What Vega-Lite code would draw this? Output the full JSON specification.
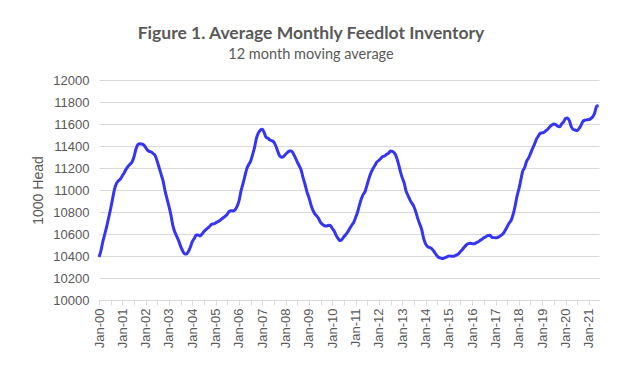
{
  "$schema": "https://vega.github.io/schema/vega-lite/v6.json",
  "width": 500,
  "height": 220,
  "autosize": {"type": "none"},
  "padding": {"left": 99, "top": 80, "right": 32, "bottom": 73},
  "background": "white",
  "title": {
    "text": "Figure 1. Average Monthly Feedlot Inventory",
    "subtitle": "12 month moving average",
    "anchor": "middle",
    "frame": "group",
    "dx": -38,
    "offset": 13,
    "font": "Lato",
    "fontSize": 17.5,
    "fontWeight": "bold",
    "color": "#595959",
    "subtitleFont": "Lato",
    "subtitleFontSize": 14.5,
    "subtitleColor": "#595959",
    "subtitlePadding": 5
  },
  "config": {
    "view": {"stroke": null},
    "axis": {"labelFont": "Liberation Sans", "titleFont": "Liberation Sans", "labelColor": "#595959", "titleColor": "#595959"}
  },
  "data": {
    "values": [
      {"date":"2000-01-01","v":10390},{"date":"2000-02-01","v":10450},{"date":"2000-03-01","v":10530},{"date":"2000-04-01","v":10600},{"date":"2000-05-01","v":10670},{"date":"2000-06-01","v":10750},{"date":"2000-07-01","v":10830},{"date":"2000-08-01","v":10920},{"date":"2000-09-01","v":11010},{"date":"2000-10-01","v":11060},{"date":"2000-11-01","v":11085},{"date":"2000-12-01","v":11100},
      {"date":"2001-01-01","v":11130},{"date":"2001-02-01","v":11160},{"date":"2001-03-01","v":11190},{"date":"2001-04-01","v":11215},{"date":"2001-05-01","v":11235},{"date":"2001-06-01","v":11255},{"date":"2001-07-01","v":11300},{"date":"2001-08-01","v":11370},{"date":"2001-09-01","v":11412},{"date":"2001-10-01","v":11420},{"date":"2001-11-01","v":11418},{"date":"2001-12-01","v":11410},
      {"date":"2002-01-01","v":11385},{"date":"2002-02-01","v":11360},{"date":"2002-03-01","v":11350},{"date":"2002-04-01","v":11345},{"date":"2002-05-01","v":11330},{"date":"2002-06-01","v":11310},{"date":"2002-07-01","v":11260},{"date":"2002-08-01","v":11200},{"date":"2002-09-01","v":11140},{"date":"2002-10-01","v":11080},{"date":"2002-11-01","v":10990},{"date":"2002-12-01","v":10920},
      {"date":"2003-01-01","v":10850},{"date":"2003-02-01","v":10770},{"date":"2003-03-01","v":10680},{"date":"2003-04-01","v":10620},{"date":"2003-05-01","v":10580},{"date":"2003-06-01","v":10540},{"date":"2003-07-01","v":10490},{"date":"2003-08-01","v":10450},{"date":"2003-09-01","v":10420},{"date":"2003-10-01","v":10418},{"date":"2003-11-01","v":10440},{"date":"2003-12-01","v":10480},
      {"date":"2004-01-01","v":10530},{"date":"2004-02-01","v":10560},{"date":"2004-03-01","v":10590},{"date":"2004-04-01","v":10590},{"date":"2004-05-01","v":10582},{"date":"2004-06-01","v":10600},{"date":"2004-07-01","v":10622},{"date":"2004-08-01","v":10640},{"date":"2004-09-01","v":10655},{"date":"2004-10-01","v":10670},{"date":"2004-11-01","v":10690},{"date":"2004-12-01","v":10692},
      {"date":"2005-01-01","v":10700},{"date":"2005-02-01","v":10712},{"date":"2005-03-01","v":10720},{"date":"2005-04-01","v":10735},{"date":"2005-05-01","v":10748},{"date":"2005-06-01","v":10762},{"date":"2005-07-01","v":10780},{"date":"2005-08-01","v":10805},{"date":"2005-09-01","v":10812},{"date":"2005-10-01","v":10810},{"date":"2005-11-01","v":10820},{"date":"2005-12-01","v":10850},
      {"date":"2006-01-01","v":10900},{"date":"2006-02-01","v":10990},{"date":"2006-03-01","v":11050},{"date":"2006-04-01","v":11120},{"date":"2006-05-01","v":11190},{"date":"2006-06-01","v":11230},{"date":"2006-07-01","v":11260},{"date":"2006-08-01","v":11320},{"date":"2006-09-01","v":11385},{"date":"2006-10-01","v":11470},{"date":"2006-11-01","v":11520},{"date":"2006-12-01","v":11545},
      {"date":"2007-01-01","v":11553},{"date":"2007-02-01","v":11520},{"date":"2007-03-01","v":11480},{"date":"2007-04-01","v":11470},{"date":"2007-05-01","v":11455},{"date":"2007-06-01","v":11448},{"date":"2007-07-01","v":11435},{"date":"2007-08-01","v":11400},{"date":"2007-09-01","v":11350},{"date":"2007-10-01","v":11310},{"date":"2007-11-01","v":11298},{"date":"2007-12-01","v":11305},
      {"date":"2008-01-01","v":11325},{"date":"2008-02-01","v":11342},{"date":"2008-03-01","v":11355},{"date":"2008-04-01","v":11355},{"date":"2008-05-01","v":11330},{"date":"2008-06-01","v":11295},{"date":"2008-07-01","v":11255},{"date":"2008-08-01","v":11220},{"date":"2008-09-01","v":11180},{"date":"2008-10-01","v":11110},{"date":"2008-11-01","v":11050},{"date":"2008-12-01","v":10980},
      {"date":"2009-01-01","v":10930},{"date":"2009-02-01","v":10865},{"date":"2009-03-01","v":10820},{"date":"2009-04-01","v":10785},{"date":"2009-05-01","v":10765},{"date":"2009-06-01","v":10740},{"date":"2009-07-01","v":10705},{"date":"2009-08-01","v":10688},{"date":"2009-09-01","v":10675},{"date":"2009-10-01","v":10672},{"date":"2009-11-01","v":10680},{"date":"2009-12-01","v":10678},
      {"date":"2010-01-01","v":10650},{"date":"2010-02-01","v":10625},{"date":"2010-03-01","v":10590},{"date":"2010-04-01","v":10560},{"date":"2010-05-01","v":10540},{"date":"2010-06-01","v":10550},{"date":"2010-07-01","v":10575},{"date":"2010-08-01","v":10595},{"date":"2010-09-01","v":10620},{"date":"2010-10-01","v":10650},{"date":"2010-11-01","v":10680},{"date":"2010-12-01","v":10705},
      {"date":"2011-01-01","v":10750},{"date":"2011-02-01","v":10800},{"date":"2011-03-01","v":10860},{"date":"2011-04-01","v":10920},{"date":"2011-05-01","v":10960},{"date":"2011-06-01","v":10990},{"date":"2011-07-01","v":11050},{"date":"2011-08-01","v":11110},{"date":"2011-09-01","v":11160},{"date":"2011-10-01","v":11195},{"date":"2011-11-01","v":11225},{"date":"2011-12-01","v":11255},
      {"date":"2012-01-01","v":11270},{"date":"2012-02-01","v":11288},{"date":"2012-03-01","v":11305},{"date":"2012-04-01","v":11310},{"date":"2012-05-01","v":11325},{"date":"2012-06-01","v":11335},{"date":"2012-07-01","v":11355},{"date":"2012-08-01","v":11350},{"date":"2012-09-01","v":11335},{"date":"2012-10-01","v":11300},{"date":"2012-11-01","v":11240},{"date":"2012-12-01","v":11170},
      {"date":"2013-01-01","v":11110},{"date":"2013-02-01","v":11060},{"date":"2013-03-01","v":10990},{"date":"2013-04-01","v":10950},{"date":"2013-05-01","v":10910},{"date":"2013-06-01","v":10880},{"date":"2013-07-01","v":10850},{"date":"2013-08-01","v":10800},{"date":"2013-09-01","v":10740},{"date":"2013-10-01","v":10690},{"date":"2013-11-01","v":10640},{"date":"2013-12-01","v":10560},
      {"date":"2014-01-01","v":10510},{"date":"2014-02-01","v":10485},{"date":"2014-03-01","v":10478},{"date":"2014-04-01","v":10470},{"date":"2014-05-01","v":10450},{"date":"2014-06-01","v":10425},{"date":"2014-07-01","v":10400},{"date":"2014-08-01","v":10385},{"date":"2014-09-01","v":10380},{"date":"2014-10-01","v":10378},{"date":"2014-11-01","v":10385},{"date":"2014-12-01","v":10392},
      {"date":"2015-01-01","v":10400},{"date":"2015-02-01","v":10398},{"date":"2015-03-01","v":10398},{"date":"2015-04-01","v":10400},{"date":"2015-05-01","v":10410},{"date":"2015-06-01","v":10420},{"date":"2015-07-01","v":10440},{"date":"2015-08-01","v":10460},{"date":"2015-09-01","v":10482},{"date":"2015-10-01","v":10500},{"date":"2015-11-01","v":10512},{"date":"2015-12-01","v":10515},
      {"date":"2016-01-01","v":10512},{"date":"2016-02-01","v":10511},{"date":"2016-03-01","v":10520},{"date":"2016-04-01","v":10528},{"date":"2016-05-01","v":10540},{"date":"2016-06-01","v":10552},{"date":"2016-07-01","v":10565},{"date":"2016-08-01","v":10575},{"date":"2016-09-01","v":10585},{"date":"2016-10-01","v":10588},{"date":"2016-11-01","v":10572},{"date":"2016-12-01","v":10567},
      {"date":"2017-01-01","v":10566},{"date":"2017-02-01","v":10568},{"date":"2017-03-01","v":10578},{"date":"2017-04-01","v":10590},{"date":"2017-05-01","v":10605},{"date":"2017-06-01","v":10635},{"date":"2017-07-01","v":10665},{"date":"2017-08-01","v":10700},{"date":"2017-09-01","v":10725},{"date":"2017-10-01","v":10775},{"date":"2017-11-01","v":10850},{"date":"2017-12-01","v":10940},
      {"date":"2018-01-01","v":11010},{"date":"2018-02-01","v":11095},{"date":"2018-03-01","v":11170},{"date":"2018-04-01","v":11205},{"date":"2018-05-01","v":11260},{"date":"2018-06-01","v":11290},{"date":"2018-07-01","v":11330},{"date":"2018-08-01","v":11375},{"date":"2018-09-01","v":11415},{"date":"2018-10-01","v":11460},{"date":"2018-11-01","v":11490},{"date":"2018-12-01","v":11515},
      {"date":"2019-01-01","v":11520},{"date":"2019-02-01","v":11525},{"date":"2019-03-01","v":11540},{"date":"2019-04-01","v":11555},{"date":"2019-05-01","v":11575},{"date":"2019-06-01","v":11590},{"date":"2019-07-01","v":11600},{"date":"2019-08-01","v":11595},{"date":"2019-09-01","v":11580},{"date":"2019-10-01","v":11575},{"date":"2019-11-01","v":11600},{"date":"2019-12-01","v":11620},
      {"date":"2020-01-01","v":11650},{"date":"2020-02-01","v":11655},{"date":"2020-03-01","v":11630},{"date":"2020-04-01","v":11575},{"date":"2020-05-01","v":11550},{"date":"2020-06-01","v":11545},{"date":"2020-07-01","v":11540},{"date":"2020-08-01","v":11560},{"date":"2020-09-01","v":11590},{"date":"2020-10-01","v":11625},{"date":"2020-11-01","v":11635},{"date":"2020-12-01","v":11638},
      {"date":"2021-01-01","v":11640},{"date":"2021-02-01","v":11650},{"date":"2021-03-01","v":11665},{"date":"2021-04-01","v":11700},{"date":"2021-05-01","v":11760},{"date":"2021-06-01","v":11768}
    ]
  },
  "mark": {"type": "line", "color": "#3535f5", "strokeWidth": 3, "interpolate": "monotone"},
  "encoding": {
    "x": {
      "field": "date",
      "type": "temporal",
      "scale": {"domain": ["2000-01-01", "2021-06-08"], "nice": false},
      "axis": {
        "title": null,
        "format": "%b-%y",
        "values": [
          "2000-01-01","2000-07-01","2001-01-01","2001-07-01","2002-01-01","2002-07-01","2003-01-01","2003-07-01","2004-01-01","2004-07-01","2005-01-01","2005-07-01","2006-01-01","2006-07-01","2007-01-01","2007-07-01","2008-01-01","2008-07-01","2009-01-01","2009-07-01","2010-01-01","2010-07-01","2011-01-01","2011-07-01","2012-01-01","2012-07-01","2013-01-01","2013-07-01","2014-01-01","2014-07-01","2015-01-01","2015-07-01","2016-01-01","2016-07-01","2017-01-01","2017-07-01","2018-01-01","2018-07-01","2019-01-01","2019-07-01","2020-01-01","2020-07-01","2021-01-01"
        ],
        "labelExpr": "month(datum.value) == 0 ? datum.label : ''",
        "labelAngle": -90,
        "labelAlign": "right",
        "labelBaseline": "middle",
        "labelFontSize": 13,
        "labelPadding": 3,
        "labelOverlap": false,
        "grid": false,
        "domainColor": "#d9d9d9",
        "tickColor": "#d9d9d9",
        "tickSize": 5
      }
    },
    "y": {
      "field": "v",
      "type": "quantitative",
      "scale": {"domain": [10000, 12000], "nice": false, "zero": false},
      "axis": {
        "title": "1000 Head",
        "titleFontSize": 14,
        "titleFontWeight": "normal",
        "titlePadding": 7,
        "values": [10000,10200,10400,10600,10800,11000,11200,11400,11600,11800,12000],
        "format": "d",
        "labelFontSize": 13,
        "labelPadding": 10,
        "ticks": false,
        "domain": false,
        "gridColor": "#d9d9d9",
        "gridWidth": 1
      }
    }
  }
}
